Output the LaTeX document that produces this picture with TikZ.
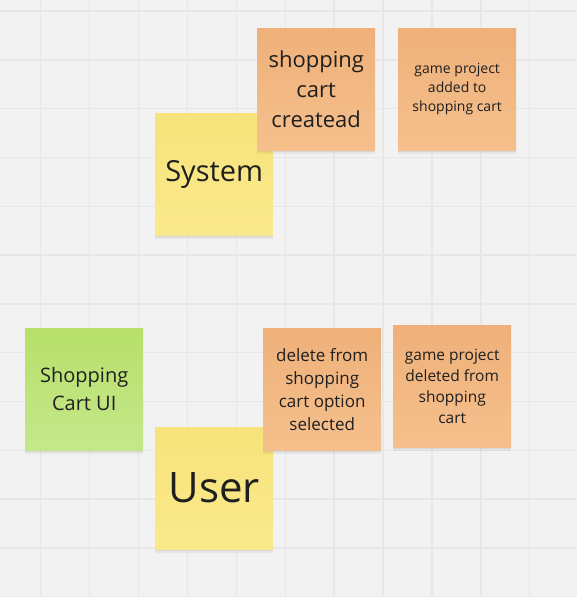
\documentclass[tikz,border=0pt]{standalone}
\usepackage{fontspec}
\setmainfont{Open Sans}
\usepackage{tikz}

\definecolor{board}{HTML}{F2F2F2}
\definecolor{gridline}{HTML}{E7E7E7}
\definecolor{ytop}{HTML}{F7E37A}
\definecolor{ybot}{HTML}{FAE98C}
\definecolor{otop}{HTML}{EFB079}
\definecolor{obot}{HTML}{F5C08D}
\definecolor{gtop}{HTML}{B7E06A}
\definecolor{gbot}{HTML}{C5E78B}
\definecolor{ink}{HTML}{1F1F1F}

\begin{document}
\begin{tikzpicture}[x=1pt, y=-1pt,
    sticky/.style={anchor=north west, minimum width=118pt, minimum height=122pt,
        inner sep=0pt, align=center, text=ink,
        preaction={fill=black, opacity=0.05, transform canvas={yshift=-4pt}},
        preaction={fill=black, opacity=0.06, transform canvas={yshift=-2pt}}},
    ynote/.style={sticky, top color=ytop, bottom color=ybot},
    onote/.style={sticky, top color=otop, bottom color=obot},
    gnote/.style={sticky, top color=gtop, bottom color=gbot}]
        % board
        \fill[board] (0,0) rectangle (577,597);
        \useasboundingbox (0,0) rectangle (577,597);
        \foreach \gx in {0,...,11}
            \draw[gridline, line width=1.4pt] ({40.7+48.9*\gx},0) -- ++(0,597);
        \foreach \gy in {0,...,12}
            \draw[gridline, line width=1.4pt] (0,{11+48.8*\gy}) -- ++(577,0);

        % upper row
        \node[ynote, font=\fontsize{29}{36}\selectfont] (system) at (155,113) {System};
        \node[onote, font=\fontsize{22}{30}\selectfont] (cartcreated) at (257,28)
            {shopping\\cart\\createad};
        \node[onote, font=\fontsize{14}{19}\selectfont] (projectadded) at (398,28)
            {game project\\added to\\shopping cart};

        % lower row
        \node[gnote, font=\fontsize{20}{28}\selectfont] (cartui) at (25,328)
            {Shopping\\Cart UI};
        \node[ynote, font=\fontsize{42}{50}\selectfont] (user) at (155,427) {User};
        \node[onote, font=\fontsize{17}{23}\selectfont] (deleteoption) at (263,328)
            {delete from\\shopping\\cart option\\selected};
        \node[onote, font=\fontsize{15.5}{21}\selectfont] (projectdeleted) at (393,325)
            {game project\\deleted from\\shopping\\cart};
    \end{tikzpicture}
\end{document}
